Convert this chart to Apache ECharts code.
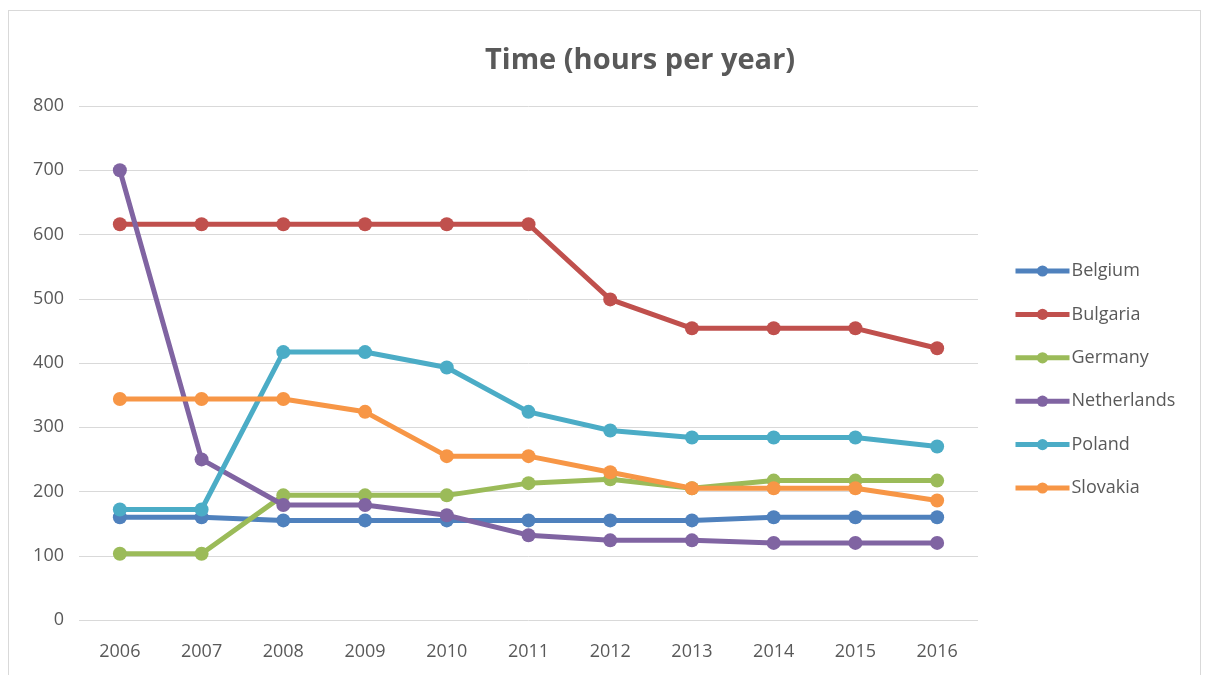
<!DOCTYPE html>
<html>
<head>
<meta charset="utf-8">
<script src="https://cdn.jsdelivr.net/npm/echarts@6/dist/echarts.min.js"></script>
<style>
    html, body { margin: 0; padding: 0; background: #fff; }
    #chart {
        position: absolute;
        left: 8px;
        top: 10px;
        width: 1193px;
        height: 675px;
        border: 1px solid #d9d9d9;
        box-sizing: border-box;
    }
</style>
</head>
<body>
<div id="chart"></div>
<script>
const years = ['2006', '2007', '2008', '2009', '2010', '2011', '2012', '2013', '2014', '2015', '2016'];
const belgium = [160, 160, 155, 155, 155, 155, 155, 155, 160, 160, 160];
const bulgaria = [616, 616, 616, 616, 616, 616, 499, 454, 454, 454, 423];
const germany = [103, 103, 194, 194, 194, 213, 219, 205, 217, 217, 217];
const netherlands = [700, 250, 179, 179, 163, 132, 124, 124, 120, 120, 120];
const poland = [172, 172, 417, 417, 393, 324, 295, 284, 284, 284, 270];
const slovakia = [344, 344, 344, 324, 255, 255, 230, 205, 205, 205, 186];

const seriesNames = ['Belgium', 'Bulgaria', 'Germany', 'Netherlands', 'Poland', 'Slovakia'];
const seriesData = [belgium, bulgaria, germany, netherlands, poland, slovakia];
const colors = ['#4F81BD', '#C0504D', '#9BBB59', '#8064A2', '#4BACC6', '#F79646'];

let chart = echarts.init(document.getElementById('chart'));

let series = [];
seriesNames.forEach((name, i) => {
    series.push({
        name: name,
        type: 'line',
        data: seriesData[i],
        symbol: 'circle',
        symbolSize: 14,
        lineStyle: { width: 5 },
        itemStyle: { color: colors[i] },
        emphasis: { disabled: true },
        z: 2 + i
    });
});

let option = {
    animation: false,
    color: colors,
    title: {
        text: 'Time (hours per year)',
        left: 471,
        top: 30,
        textStyle: {
            color: '#595959',
            fontFamily: 'Open Sans',
            fontWeight: 'bold',
            fontSize: 29
        }
    },
    grid: {
        left: 70,
        right: 222,
        top: 95,
        bottom: 64
    },
    legend: {
        data: seriesNames,
        orient: 'vertical',
        left: 999,
        top: 246,
        itemGap: 25.4,
        itemWidth: 54,
        itemHeight: 14,
        lineStyle: { width: 5 },
        textStyle: {
            color: '#595959',
            fontFamily: 'Open Sans',
            fontSize: 18,
            padding: [0, 0, 0, -3]
        }
    },
    xAxis: {
        type: 'category',
        boundaryGap: true,
        data: years,
        axisLine: { show: false },
        axisTick: { show: false },
        axisLabel: {
            color: '#595959',
            fontFamily: 'Open Sans',
            fontSize: 18,
            margin: 23
        }
    },
    yAxis: {
        type: 'value',
        min: 0,
        max: 800,
        interval: 100,
        axisLine: { show: false },
        axisTick: { show: false },
        axisLabel: {
            color: '#595959',
            fontFamily: 'Open Sans',
            fontSize: 18,
            margin: 15
        },
        splitLine: {
            lineStyle: { color: '#d9d9d9', width: 1 }
        }
    },
    series: series
};
chart.setOption(option);
window.addEventListener("resize", () => {
    chart.resize();
});
</script>
</body>
</html>
